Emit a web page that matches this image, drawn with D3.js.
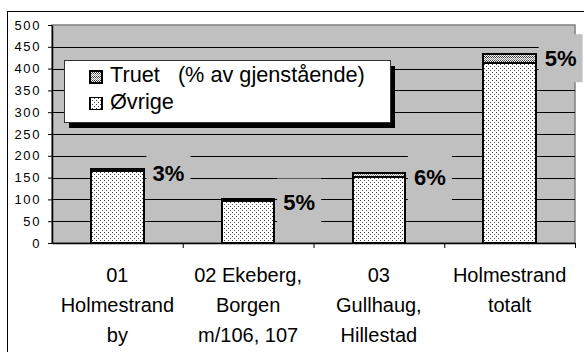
<!DOCTYPE html>
<html>
<head>
<meta charset="utf-8">
<script src="https://cdn.jsdelivr.net/npm/d3@7"></script>
<style>
  html, body { margin: 0; padding: 0; background: #fff; }
  svg { display: block; }
  text { font-family: "Liberation Sans", Arial, sans-serif; fill: #000; }
</style>
</head>
<body>
<svg id="chart" width="584" height="352"></svg>
<script>
// Category names, one entry per text line
const categories = [
  ["01", "Holmestrand", "by"],
  ["02 Ekeberg,", "Borgen", "m/106, 107"],
  ["03", "Gullhaug,", "Hillestad"],
  ["Holmestrand", "totalt"]
];
// Stacked series (number of localities)
const ovrige = [164, 97, 151, 412];
const truet = [5, 5, 10, 21];
// Y axis ticks
const yTicks = [0, 50, 100, 150, 200, 250, 300, 350, 400, 450, 500];
const legendLabels = ["Truet   (% av gjenstående)", "Øvrige"];

const svg = d3.select("#chart");
const plot = { left: 52, right: 575, top: 25, bottom: 243 };

// Fill patterns
const defs = svg.append("defs");
const pO = defs.append("pattern").attr("id", "patOvrige")
  .attr("patternUnits", "userSpaceOnUse").attr("width", 4).attr("height", 4);
pO.append("rect").attr("width", 4).attr("height", 4).attr("fill", "#fff");
[[0, 0], [2, 2]].forEach(([x, y]) =>
  pO.append("rect").attr("x", x).attr("y", y).attr("width", 1).attr("height", 1).attr("fill", "#444"));
const pT = defs.append("pattern").attr("id", "patTruet")
  .attr("patternUnits", "userSpaceOnUse").attr("width", 4).attr("height", 4);
pT.append("rect").attr("width", 4).attr("height", 4).attr("fill", "#fff");
[[0, 0], [2, 0], [1, 1], [3, 1], [0, 2], [3, 3], [1, 3], [2, 2]].forEach(([x, y], i) =>
  pT.append("rect").attr("x", x).attr("y", y).attr("width", 1).attr("height", 1)
    .attr("fill", i < 4 ? "#333" : "#888"));

// Outer chart border
svg.append("rect").attr("x", 7.5).attr("y", 11.5).attr("width", 620).attr("height", 400)
  .attr("fill", "#fff").attr("stroke", "#000").attr("stroke-width", 1);

// Scales
const x = d3.scaleBand().domain(d3.range(categories.length))
  .range([plot.left, plot.right]).paddingInner(0.6).paddingOuter(0.3);
const y = d3.scaleLinear().domain([0, 500]).range([plot.bottom, plot.top]);

// Plot background and frame
svg.append("rect").attr("x", plot.left).attr("y", plot.top)
  .attr("width", plot.right - plot.left).attr("height", plot.bottom - plot.top)
  .attr("fill", "#c0c0c0").attr("stroke", "#808080").attr("stroke-width", 1.5);

// Gridlines
svg.append("g").selectAll("line").data(yTicks.filter(d => d > 0 && d < 500)).join("line")
  .attr("x1", plot.left).attr("x2", plot.right)
  .attr("y1", d => Math.round(y(d)) + 0.5).attr("y2", d => Math.round(y(d)) + 0.5)
  .attr("stroke", "#000").attr("stroke-width", 1);

// Percentage labels: share of threatened per bar
const totals = ovrige.map((v, i) => v + truet[i]);
const pct = totals.map((t, i) => Math.round(truet[i] / t * 100) + "%");
const labelX = i => x(i) + x.bandwidth() / 2 + 51;
const labelY = i => y(totals[i]) + 4;

// Label backgrounds (plot colour) cut the gridlines
svg.append("g").selectAll("rect").data(pct).join("rect")
  .attr("x", (d, i) => labelX(i) - 22).attr("y", (d, i) => labelY(i) - 24)
  .attr("width", 44).attr("height", 48).attr("fill", "#c0c0c0");

// Bars
const bars = svg.append("g").attr("shape-rendering", "crispEdges");
bars.selectAll("rect.ovr").data(ovrige).join("rect").attr("class", "ovr")
  .attr("x", (d, i) => x(i)).attr("width", x.bandwidth())
  .attr("y", d => y(d)).attr("height", d => y(0) - y(d))
  .attr("fill", "url(#patOvrige)").attr("stroke", "#000").attr("stroke-width", 2);
bars.selectAll("rect.tru").data(truet).join("rect").attr("class", "tru")
  .attr("x", (d, i) => x(i)).attr("width", x.bandwidth())
  .attr("y", (d, i) => y(totals[i])).attr("height", (d, i) => y(ovrige[i]) - y(totals[i]))
  .attr("fill", "url(#patTruet)").attr("stroke", "#000").attr("stroke-width", 2);

svg.append("g").selectAll("text").data(pct).join("text")
  .attr("x", (d, i) => labelX(i)).attr("y", (d, i) => labelY(i))
  .attr("dy", "0.36em").attr("text-anchor", "middle")
  .style("font-size", "22px").style("font-weight", "bold").text(d => d);

// Y axis
const yAxis = svg.append("g").attr("transform", `translate(${plot.left},0)`)
  .call(d3.axisLeft(y).tickValues(yTicks).tickSize(4).tickPadding(7).tickSizeOuter(0));
yAxis.select(".domain").attr("stroke", "#000").attr("stroke-width", 1.5);
yAxis.selectAll(".tick line").attr("stroke", "#000");
yAxis.selectAll(".tick text").style("font-size", "13px").style("letter-spacing", "1.6px")
  .attr("font-family", null);

// X axis with ticks on category boundaries
const xb = d3.scaleLinear().domain([0, categories.length]).range([plot.left, plot.right]);
const xAxis = svg.append("g").attr("transform", `translate(0,${plot.bottom})`)
  .call(d3.axisBottom(xb).tickValues(d3.range(1, categories.length + 1)).tickSize(5)
    .tickSizeOuter(0).tickFormat(""));
xAxis.select(".domain").attr("stroke", "#000").attr("stroke-width", 1.5);
xAxis.selectAll(".tick line").attr("stroke", "#000");

// Category labels
const cat = svg.append("g");
categories.forEach((lines, i) => {
  const t = cat.append("text").attr("text-anchor", "middle").style("font-size", "20px");
  lines.forEach((s, k) => t.append("tspan")
    .attr("x", x(i) + x.bandwidth() / 2).attr("y", 282 + k * 30).text(s));
});

// Legend with drop shadow
const lg = svg.append("g").attr("transform", "translate(64,60)");
lg.append("rect").attr("x", 5).attr("y", 6).attr("width", 326).attr("height", 62).attr("fill", "#000");
lg.append("rect").attr("x", 0.5).attr("y", 0.5).attr("width", 326).attr("height", 62)
  .attr("fill", "#fff").attr("stroke", "#333").attr("stroke-width", 1);
const legendFill = ["url(#patTruet)", "url(#patOvrige)"];
legendLabels.forEach((s, k) => {
  lg.append("rect").attr("x", 26).attr("y", 11 + k * 26.5).attr("width", 12).attr("height", 12)
    .attr("fill", legendFill[k]).attr("stroke", "#000").attr("stroke-width", 1.5)
    .attr("shape-rendering", "crispEdges");
  lg.append("text").attr("x", 46).attr("y", 22 + k * 26.5).style("font-size", "21.7px")
    .attr("xml:space", "preserve").style("white-space", "pre").text(s);
});
</script>
</body>
</html>
